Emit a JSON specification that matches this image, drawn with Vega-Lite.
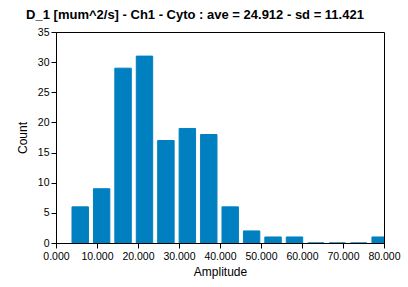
{
  "$schema": "https://vega.github.io/schema/vega-lite/v6.json",
  "width": 328,
  "height": 211,
  "autosize": "none",
  "padding": {"left": 56, "top": 32, "right": 24, "bottom": 44},
  "background": "white",
  "title": {
    "text": "D_1 [mum^2/s] - Ch1 - Cyto : ave = 24.912 - sd = 11.421",
    "font": "Liberation Sans",
    "fontSize": 13,
    "fontWeight": "bold",
    "color": "black",
    "anchor": "middle",
    "dx": -25,
    "offset": 5
  },
  "data": {
    "values": [
      {"bin_start": 3.17, "bin_end": 8.40, "count": 6},
      {"bin_start": 8.40, "bin_end": 13.62, "count": 9},
      {"bin_start": 13.62, "bin_end": 18.85, "count": 29},
      {"bin_start": 18.85, "bin_end": 24.07, "count": 31},
      {"bin_start": 24.07, "bin_end": 29.30, "count": 17},
      {"bin_start": 29.30, "bin_end": 34.53, "count": 19},
      {"bin_start": 34.53, "bin_end": 39.75, "count": 18},
      {"bin_start": 39.75, "bin_end": 44.98, "count": 6},
      {"bin_start": 44.98, "bin_end": 50.20, "count": 2},
      {"bin_start": 50.20, "bin_end": 55.43, "count": 1},
      {"bin_start": 55.43, "bin_end": 60.66, "count": 1},
      {"bin_start": 60.66, "bin_end": 65.88, "count": 0},
      {"bin_start": 65.88, "bin_end": 71.11, "count": 0},
      {"bin_start": 71.11, "bin_end": 76.33, "count": 0},
      {"bin_start": 76.33, "bin_end": 81.56, "count": 1}
    ]
  },
  "mark": {"type": "bar", "color": "#0080c0", "stroke": "#0080c0", "strokeWidth": 1, "binSpacing": 5, "clip": true},
  "encoding": {
    "x": {
      "field": "bin_start",
      "type": "quantitative",
      "bin": "binned",
      "scale": {"domain": [0, 80], "nice": false, "zero": false},
      "axis": {"values": [0, 10, 20, 30, 40, 50, 60, 70, 80], "format": ".3f", "title": "Amplitude", "grid": false, "tickSize": 5, "labelPadding": 3, "titlePadding": 5, "labelOverlap": false, "labelFlush": false, "labelBound": false}
    },
    "x2": {"field": "bin_end"},
    "y": {
      "field": "count",
      "type": "quantitative",
      "scale": {"domain": [0, 35], "nice": false},
      "axis": {"values": [0, 5, 10, 15, 20, 25, 30, 35], "title": "Count", "grid": false, "tickSize": 5, "labelPadding": 2, "titlePadding": 8, "labelOverlap": false, "labelFlush": false}
    }
  },
  "config": {
    "view": {"stroke": "black", "strokeWidth": 1},
    "axis": {
      "domainColor": "black",
      "tickColor": "black",
      "labelColor": "black",
      "titleColor": "black",
      "labelFont": "Liberation Sans",
      "labelFontSize": 10.5,
      "titleFont": "Liberation Sans",
      "titleFontSize": 12,
      "titleFontWeight": "normal"
    }
  }
}
